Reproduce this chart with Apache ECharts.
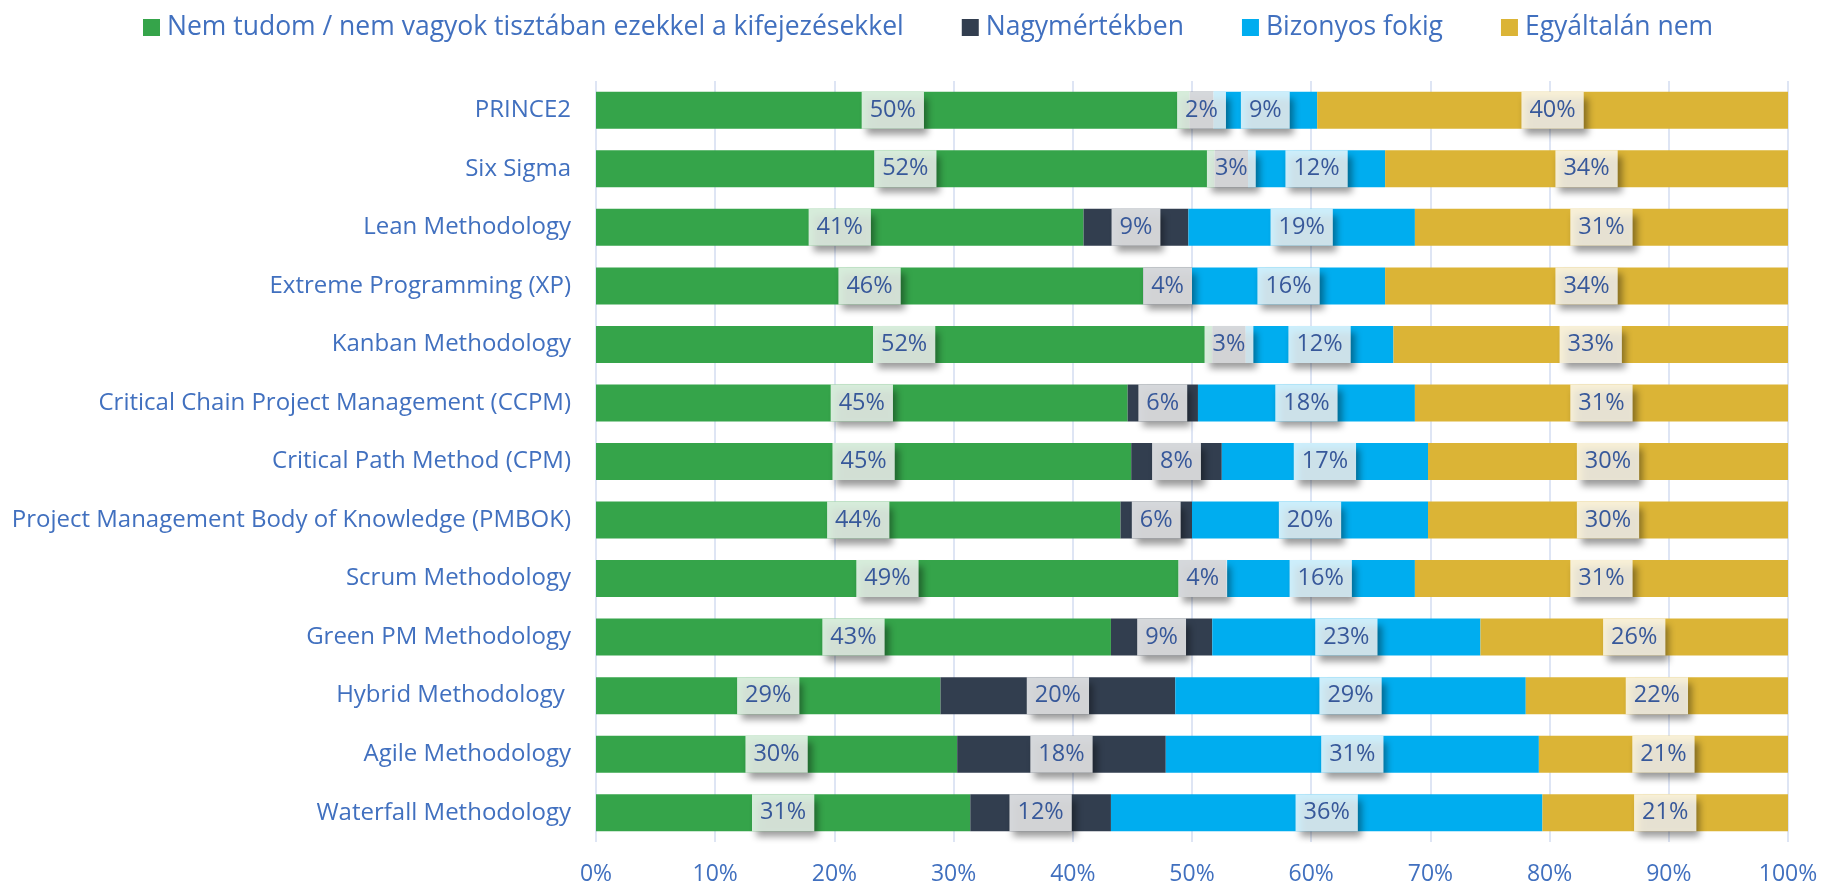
<!DOCTYPE html>
<html>
	<head>
		<meta charset="utf-8" />
		<title>Módszertanok</title>
		<script src="https://cdn.jsdelivr.net/npm/echarts@6/dist/echarts.min.js"></script>
		<style>
			html, body { margin: 0; padding: 0; background: #fff; }
			#chart { width: 1823px; height: 887px; }
		</style>
	</head>
	<body>
		<div id="chart"></div>
	</body>
	<script type="text/javascript">

	// kategóriák, felülről lefelé
	var categories = ['PRINCE2', 'Six Sigma', 'Lean Methodology', 'Extreme Programming (XP)', 'Kanban Methodology',
		'Critical Chain Project Management (CCPM)', 'Critical Path Method (CPM)', 'Project Management Body of Knowledge (PMBOK)',
		'Scrum Methodology', 'Green PM Methodology', 'Hybrid Methodology ', 'Agile Methodology', 'Waterfall Methodology'];

	var seriesNames = ['Nem tudom / nem vagyok tisztában ezekkel a kifejezésekkel', 'Nagymértékben', 'Bizonyos fokig', 'Egyáltalán nem'];

	// százalékok
	var nemTudom     = [49.8, 51.9, 40.9, 45.9, 51.7, 44.6, 44.9, 44.0, 48.9, 43.2, 28.9, 30.3, 31.4];
	var nagymertekben = [2.0, 2.8, 8.8, 4.1, 2.8, 5.9, 7.6, 6.0, 4.0, 8.5, 19.7, 17.5, 11.8];
	var bizonyosFokig = [8.7, 11.5, 19.0, 16.2, 12.4, 18.2, 17.3, 19.8, 15.8, 22.5, 29.4, 31.3, 36.2];
	var egyaltalanNem = [39.5, 33.8, 31.3, 33.8, 33.1, 31.3, 30.2, 30.2, 31.3, 25.8, 22.0, 20.9, 20.6];

	var colors = ['#35a44a', '#323e4f', '#00adef', '#dbb436'];

	var textBlue = '#4170bf';
	var font = 'Open Sans';

	var myChart = echarts.init(document.getElementById('chart'));

	function makeSeries(name, data, color) {
		return {
			name: name,
			type: 'bar',
			stack: 'total',
			barWidth: 37,
			data: data,
			itemStyle: { color: color },
			label: {
				show: true,
				position: 'inside',
				formatter: function (p) { return Math.round(p.value) + '%'; },
				fontFamily: font,
				fontSize: 23.5,
				lineHeight: 25,
				color: '#37589a',
				backgroundColor: 'rgba(255,255,255,0.8)',
				padding: [6, 8],
				shadowColor: 'rgba(0,0,0,0.5)',
				shadowBlur: 7,
				shadowOffsetX: 4,
				shadowOffsetY: 6
			},
			emphasis: { disabled: true }
		};
	}

	var option = {
		animation: false,
		textStyle: { fontFamily: font },
		legend: {
			left: 138,
			top: 9,
			itemWidth: 17,
			itemHeight: 17,
			itemGap: 58,
			icon: 'rect',
			textStyle: { fontFamily: font, fontSize: 26.5, color: textBlue, padding: [0, 0, 0, 2] },
			data: seriesNames
		},
		grid: {
			left: 596,
			right: 35,
			top: 81,
			bottom: 45,
			containLabel: false
		},
		xAxis: {
			type: 'value',
			min: 0,
			max: 100,
			interval: 10,
			axisLine: { show: false },
			axisTick: { show: false },
			axisLabel: { formatter: '{value}%', fontFamily: font, fontSize: 23, color: textBlue, margin: 21 },
			splitLine: { lineStyle: { color: '#d3ddf0', width: 1.5 } }
		},
		yAxis: {
			type: 'category',
			inverse: true,
			data: categories,
			axisLine: { show: false },
			axisTick: { show: false },
			axisLabel: { fontFamily: font, fontSize: 24, color: textBlue, margin: 25 }
		},
		series: [
			makeSeries(seriesNames[0], nemTudom, colors[0]),
			makeSeries(seriesNames[1], nagymertekben, colors[1]),
			makeSeries(seriesNames[2], bizonyosFokig, colors[2]),
			makeSeries(seriesNames[3], egyaltalanNem, colors[3])
		]
	};

	myChart.setOption(option);

	</script>
</html>
